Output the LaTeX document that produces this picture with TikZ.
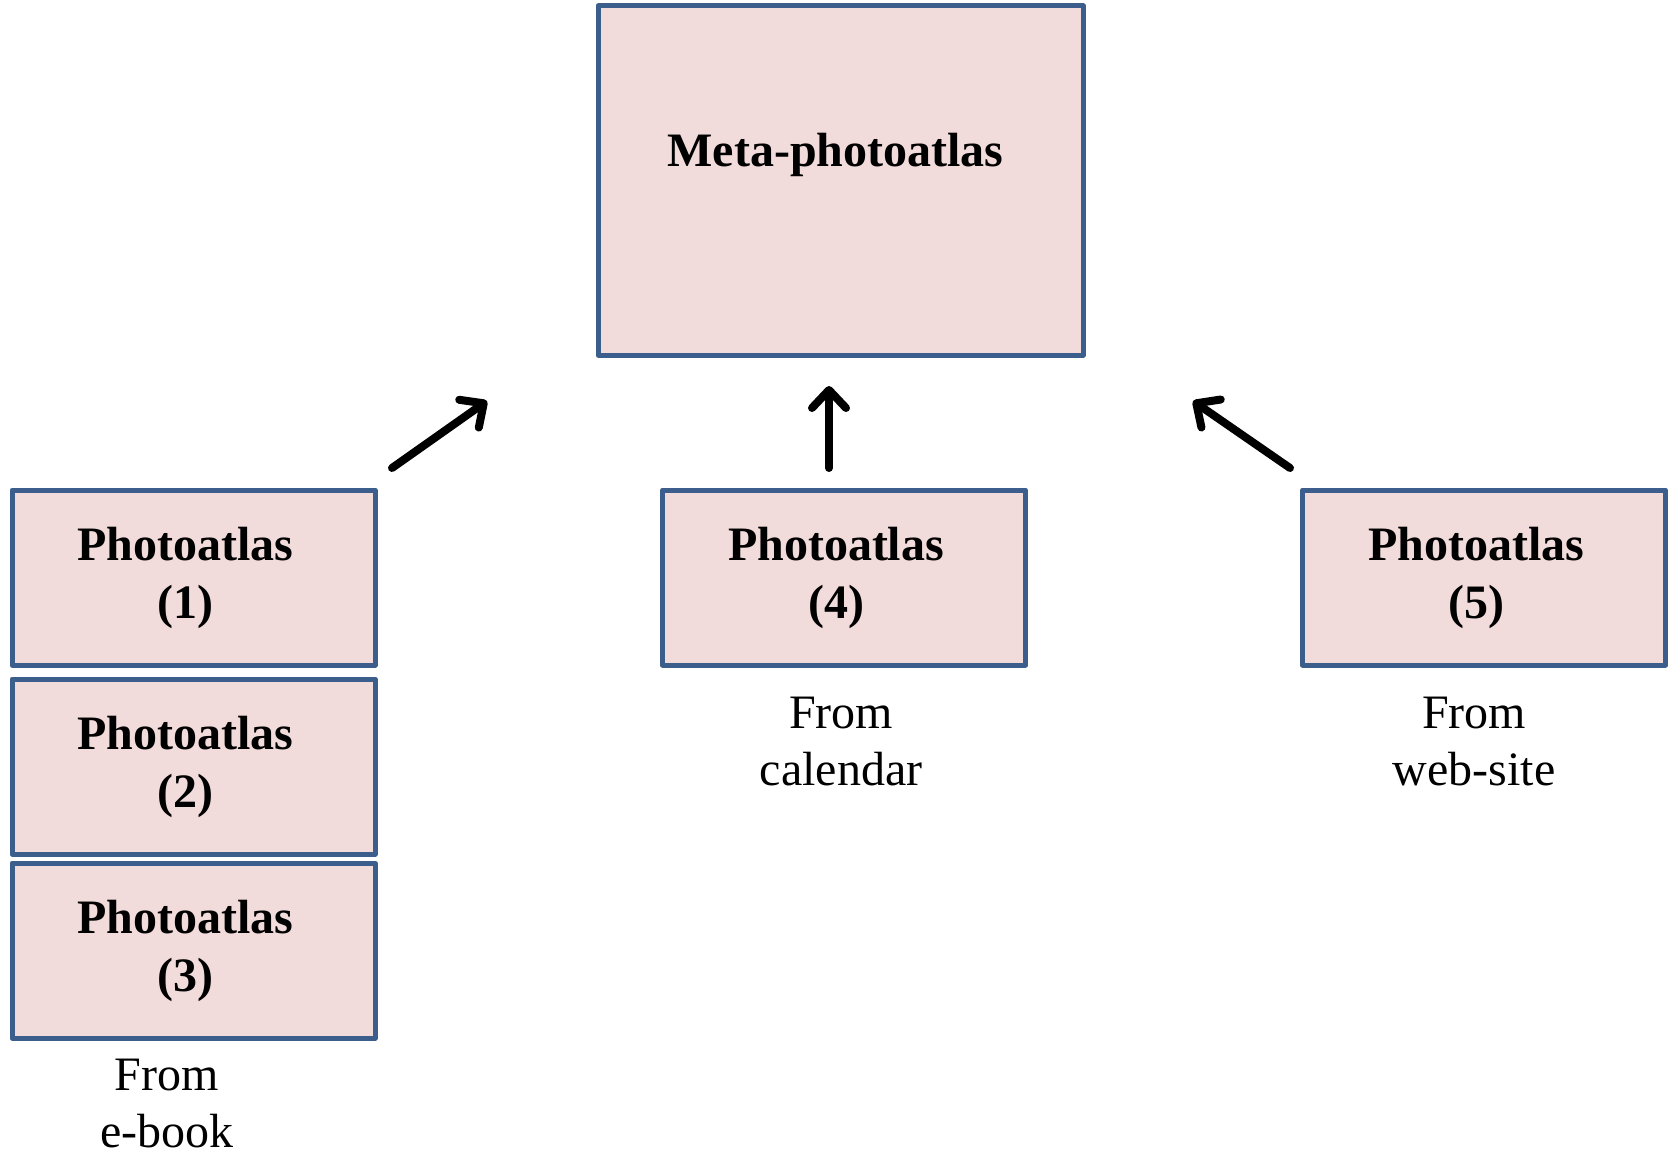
\documentclass[tikz,border=0pt]{standalone}
\usepackage{fontspec}
\setmainfont{Liberation Serif}
\usepackage{xcolor}
\usepackage{tikz}
\usetikzlibrary{arrows.meta}

\definecolor{atlasfill}{HTML}{F2DCDB}
\definecolor{atlasline}{HTML}{3B5E8C}

\begin{document}
\begin{tikzpicture}[x=0.5pt, y=-0.5pt, font=\fontsize{24}{29}\selectfont,
    atlas/.style={draw=atlasline, fill=atlasfill, line width=2.5pt, line join=round,
                  align=center, font=\fontsize{24}{29}\selectfont\bfseries,
                  minimum width=181.5pt, minimum height=87.5pt, inner sep=0pt},
    source/.style={align=center, inner sep=0pt, font=\fontsize{24}{28.5}\selectfont},
    up/.style={line width=4pt, line cap=round,
               -{Straight Barb[round, length=9pt, width=17pt]}}]
      \useasboundingbox (0,0) rectangle (1669,1155);

      \node[atlas, minimum width=242.5pt, minimum height=174.5pt]  (M)  at ( 840.5, 180.5)  {};
      \node[font=\fontsize{24}{29}\selectfont\bfseries, anchor=base, inner sep=0pt] (MT) at (835.5, 167) {Meta-photoatlas};

      \node[atlas]  (P1)  at ( 193.5,  577.5)   {\hspace*{-8pt}Photoatlas \\ \hspace*{-8pt}(1)};
      \node[atlas]  (P2)  at ( 193.5,  766.5)   {\hspace*{-8pt}Photoatlas \\ \hspace*{-8pt}(2)};
      \node[atlas]  (P3)  at ( 193.5,  950.5)   {\hspace*{-8pt}Photoatlas \\ \hspace*{-8pt}(3)};
      \node[atlas]  (P4)  at ( 844.0,  577.5)   {\hspace*{-8pt}Photoatlas \\ \hspace*{-8pt}(4)};
      \node[atlas]  (P5)  at (1484.0,  577.5)   {\hspace*{-8pt}Photoatlas \\ \hspace*{-8pt}(5)};

      \node[source] (S1)  at ( 167.0, 1104.0)   {From \\ e-book};
      \node[source] (S4)  at ( 841.0,  741.5)   {From \\ calendar};
      \node[source] (S5)  at (1474.0,  741.5)   {From \\ web-site};

      \coordinate (A1) at ( 392, 468);
      \coordinate (B1) at ( 487, 401);
      \coordinate (A4) at ( 829, 468);
      \coordinate (B4) at ( 829, 386);
      \coordinate (A5) at (1290, 468);
      \coordinate (B5) at (1193, 401);

      \draw[up] (A1) -- (B1);
      \draw[up] (A4) -- (B4);
      \draw[up] (A5) -- (B5);
    \end{tikzpicture}
\end{document}
